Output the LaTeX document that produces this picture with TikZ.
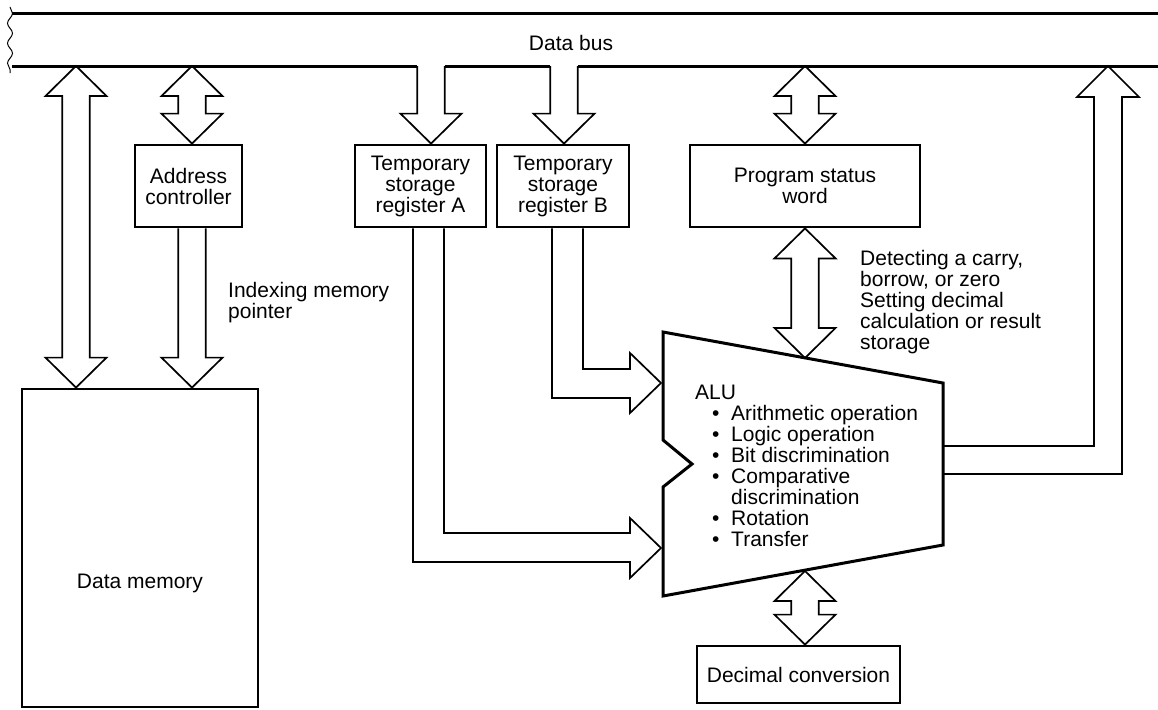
\documentclass[tikz,border=0pt]{standalone}
\usepackage{fontspec}
\setmainfont{Liberation Sans}
\usetikzlibrary{calc,decorations.pathmorphing}
\newcommand\fs{\fontsize{21}{21}\selectfont}
\newcommand\bul[1]{\hspace*{17pt}\makebox[19pt][l]{\textbullet}#1}
\tikzset{
  box/.style={draw, line width=2.8pt, inner sep=0pt, align=center, font=\fs},
  blk/.style={draw, line width=1.7pt, line join=miter},
  bus/.style={line width=3pt},
  alushape/.style={draw, line width=3pt, line join=miter},
  txt/.style={inner sep=0pt, align=left, font=\fs},
  wavy/.style={line width=1pt, decorate, decoration={snake, amplitude=2.5pt, segment length=20pt}},
}
% double vertical block arrow between two points with the same x
\newcommand\vdbl[2]{%
  \draw[blk] let \p1=(#1), \p2=(#2) in
    (\x1,\y1) -- (\x1+30.5pt,\y1-30pt) -- (\x1+13.75pt,\y1-30pt)
    -- (\x1+13.75pt,\y2+30pt) -- (\x1+30.5pt,\y2+30pt) -- (\x2,\y2)
    -- (\x1-30.5pt,\y2+30pt) -- (\x1-13.75pt,\y2+30pt)
    -- (\x1-13.75pt,\y1-30pt) -- (\x1-30.5pt,\y1-30pt) -- cycle;}
% single downward block arrow, open at its start
\newcommand\vsgl[2]{%
  \draw[blk] let \p1=(#1), \p2=(#2) in
    (\x1-13.75pt,\y1) -- (\x1-13.75pt,\y2+30pt) -- (\x1-30.5pt,\y2+30pt)
    -- (\x2,\y2) -- (\x1+30.5pt,\y2+30pt) -- (\x1+13.75pt,\y2+30pt)
    -- (\x1+13.75pt,\y1);}
\begin{document}
\begin{tikzpicture}[x=1pt,y=-1pt]
\useasboundingbox (0,0) rectangle (1158,709);

% bus coordinates
\coordinate (bDM) at (76,66);
\coordinate (bAC) at (192,66);
\coordinate (bRA) at (431,66);
\coordinate (bRB) at (564,66);
\coordinate (bPSW) at (805,66);
\coordinate (bOut) at (1108,66);

% data bus
\draw[bus] (12,14) -- (1158,14);
\draw[bus] (12,66) -- ($(bRA)+(-13.75,0)$) ($(bRA)+(13.75,0)$) -- ($(bRB)+(-13.75,0)$) ($(bRB)+(13.75,0)$) -- (1158,66);
\coordinate (wTop) at (10,7);
\coordinate (wBot) at (10,73);
\draw[wavy] (wTop) -- (wBot);
\node[txt] (busl) at (571,43) {Data bus};

% boxes
\node[box, minimum width=107pt, minimum height=82pt] (addr) at (188.5,186) {Address\\controller};
\node[box, minimum width=131pt, minimum height=82pt] (regA) at (420.5,186) {Temporary\\storage\\register A};
\node[box, minimum width=132pt, minimum height=82pt] (regB) at (563,186) {Temporary\\storage\\register B};
\node[box, minimum width=230pt, minimum height=82pt] (psw) at (805,186) {Program status\\word};
\node[box, minimum width=203pt, minimum height=57pt] (dec) at (798.5,674.5) {Decimal conversion};
\node[box, minimum width=236pt, minimum height=318pt] (dmem) at (140,548) {};
\node[txt] (dmeml) at ($(dmem.center)+(0,35)$) {Data memory};

% ALU
\coordinate (aTL) at (663,332);
\coordinate (aTR) at (943,383);
\coordinate (aBR) at (943,545);
\coordinate (aBL) at (663,596);
\coordinate (aN1) at (663,487);
\coordinate (aN2) at (692,464);
\coordinate (aN3) at (663,440);
\draw[alushape] (aTL) -- (aTR) -- (aBR) -- (aBL) -- (aN1) -- (aN2) -- (aN3) -- cycle;
\coordinate (aluTop) at (805,358);
\coordinate (aluBot) at (805,571);
\coordinate (tipA) at (661,548);
\coordinate (tipB) at (661,383);
\coordinate (aluR1) at (943,446);
\coordinate (aluR2) at (943,474);
\node[txt, anchor=base west] (alu) at (695,546) {ALU\\
\bul{Arithmetic operation}\\
\bul{Logic operation}\\
\bul{Bit discrimination}\\
\bul{Comparative}\\
\hspace*{36pt}discrimination\\
\bul{Rotation}\\
\bul{Transfer}};

% arrows
\vdbl{bDM}{bDM |- dmem.north}
\vdbl{bAC}{bAC |- addr.north}
\vsgl{bAC |- addr.south}{bAC |- dmem.north}
\vsgl{bRA}{bRA |- regA.north}
\vsgl{bRB}{bRB |- regB.north}
\vdbl{bPSW}{bPSW |- psw.north}
\vdbl{bPSW |- psw.south}{aluTop}
\vdbl{aluBot}{bPSW |- dec.north}

\draw[blk] let \p1=(regB.south), \p2=(tipB) in
  (\x1-11pt,\y1) -- (\x1-11pt,\y2-15pt) -- (\x2-31pt,\y2-15pt) -- (\x2-31pt,\y2-30pt)
  -- (\x2,\y2) -- (\x2-31pt,\y2+30pt) -- (\x2-31pt,\y2+14pt) -- (\x1+20pt,\y2+14pt) -- (\x1+20pt,\y1);
\draw[blk] let \p1=(regA.south), \p2=(tipA) in
  (\x1-7.5pt,\y1) -- (\x1-7.5pt,\y2-14pt) -- (\x2-31pt,\y2-14pt) -- (\x2-31pt,\y2-30pt)
  -- (\x2,\y2) -- (\x2-31pt,\y2+30pt) -- (\x2-31pt,\y2+15pt) -- (\x1+23.5pt,\y2+15pt) -- (\x1+23.5pt,\y1);
\draw[blk] let \p1=(aluR1), \p2=(aluR2), \p3=(bOut) in
  (\x1,\y1) -- (\x3-14pt,\y1) -- (\x3-14pt,\y3-31pt) -- (\x3-31pt,\y3-31pt) -- (\x3,\y3)
  -- (\x3+31pt,\y3-31pt) -- (\x3+14pt,\y3-31pt) -- (\x3+14pt,\y2) -- (\x2,\y2);

% labels
\node[txt, anchor=base west] (idx) at (228,318) {Indexing memory\\pointer};
\node[txt, anchor=base west] (flags) at (860,349) {Detecting a carry,\\borrow, or zero\\Setting decimal\\calculation or result\\storage};
\end{tikzpicture}
\end{document}
